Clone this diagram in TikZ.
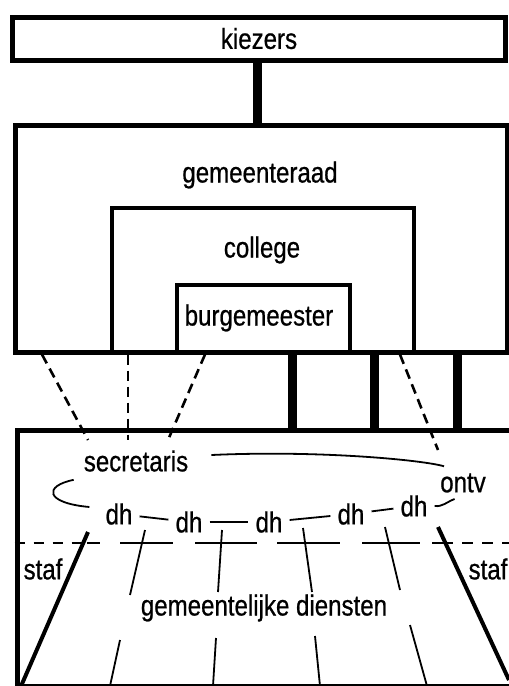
\documentclass[tikz,border=0pt]{standalone}
\usepackage{fontspec}
\setmainfont{Liberation Sans}[FakeStretch=0.83, UprightFeatures={FakeBold=0.7}]
\usetikzlibrary{positioning,calc}

\tikzset{
  box/.style={draw, line width=5pt, anchor=north west, inner sep=0pt},
  subbox/.style={draw, line width=4pt, anchor=north west, inner sep=0pt},
  tekst/.style={font=\fontsize{29}{33}\selectfont, inner sep=1pt},
  dienst/.style={tekst, inner sep=7pt},
  bar/.style={line width=9pt},
  lijn/.style={line width=1.8pt},
  stippel/.style={line width=2.6pt, dash pattern=on 10pt off 6pt},
  grens/.style={line width=2pt},
  stafline/.style={line width=4pt},
}

\begin{document}
\begin{tikzpicture}[x=1pt, y=-1pt]
  \useasboundingbox (0,0) rectangle (509,686);
  \clip (0,0) rectangle (509,686);

  % bestuur
  \node[box, tekst, inner sep=0pt, minimum width=493pt, minimum height=43pt] (kiezers) at (10,14.5) {kiezers};
  \node[box, minimum width=492pt, minimum height=227pt] (raad) at (13,122.5) {};
  \node[subbox, minimum width=302.5pt, minimum height=144pt] (college) at (109.5,205.5) {};
  \node[subbox, minimum width=173pt, minimum height=67pt] (burg) at (174.5,282.5) {};
  \node[tekst] (raadtxt) at (260,175) {gemeenteraad};
  \node[tekst] (collegetxt) at (262,250) {college};
  \node[tekst] (burgtxt) at (259,318) {burgemeester};
  \draw[bar] (kiezers.south -| 257,0) -- (raad.north -| 257,0);

  % ambtelijk apparaat
  \node[box, minimum width=520pt, minimum height=256pt] (dienst) at (14.5,427.5) {};
  \foreach \x in {292,374,457}
    \draw[bar] (raad.south -| \x,0) -- (dienst.north -| \x,0);

  \node[tekst] (secr) at (136,461) {secretaris};
  \node[tekst] (ontv) at (463,483) {ontv};
  \node[dienst] (dh1) at (119,514) {dh};
  \node[dienst] (dh2) at (189,522) {dh};
  \node[dienst] (dh3) at (269,522) {dh};
  \node[dienst] (dh4) at (351,514) {dh};
  \node[dienst] (dh5) at (414,506) {dh};
  \node[tekst] (stafl) at (43,569) {staf};
  \node[tekst] (stafr) at (488,569) {staf};
  \node[tekst] (diensten) at (264,608) {gemeentelijke diensten};

  \draw[stippel] (raad.south -| 42,0) -- (88,440);
  \draw[stippel] (raad.south -| 128,0) -- (128,440);
  \draw[stippel] (raad.south -| 205,0) -- (168,440);
  \draw[stippel] (raad.south -| 400,0) -- (438,450);

  % ring om secretaris, diensthoofden en ontvanger
  \draw[lijn] ($(secr.east)+(22,-6)$) .. controls +(110,-5) and +(-20,-6) .. ($(ontv.north west)+(5,-6)$);
  \draw[lijn] ($(secr.south west)+(-9,7)$) .. controls +(-30,6) and +(-45,-4) .. ($(dh1.west)+(-9,-7)$);
  \draw[lijn] (dh1) -- (dh2);
  \draw[lijn] (dh2) -- (dh3);
  \draw[lijn] (dh3) -- (dh4);
  \draw[lijn] (dh4) -- (dh5);
  \draw[lijn] (dh5.east) .. controls +(8,1) and +(-8,3) .. +(20,-7);

  % grens staf / lijn
  \draw[grens, dash pattern=on 10pt off 9pt] (dienst.west |- 0,543) -- (88,543);
  \foreach \a/\b in {87/100,120/173,195/257,277/340,362/420,432/453}
    \draw[grens] (\a,543) -- (\b,543);
  \draw[grens, dash pattern=on 11pt off 9pt] (462,543) -- (509,543);

  \foreach \a/\b/\c/\d/\e/\f/\g/\h in {145/530/130/595/120/640/110/686,
      222/530/218/592/216/638/213/686, 303/528/312/592/315/636/320/686,
      385/527/400/590/410/625/427/686} {
    \draw[lijn] (\a,\b) -- (\c,\d);
    \draw[lijn] (\e,\f) -- (\g,\h);
  }

  \draw[stafline] (88,532) -- (dienst.south west -| 20,0);
  \draw[stafline] (438,527) -- (509,680);
\end{tikzpicture}
\end{document}
